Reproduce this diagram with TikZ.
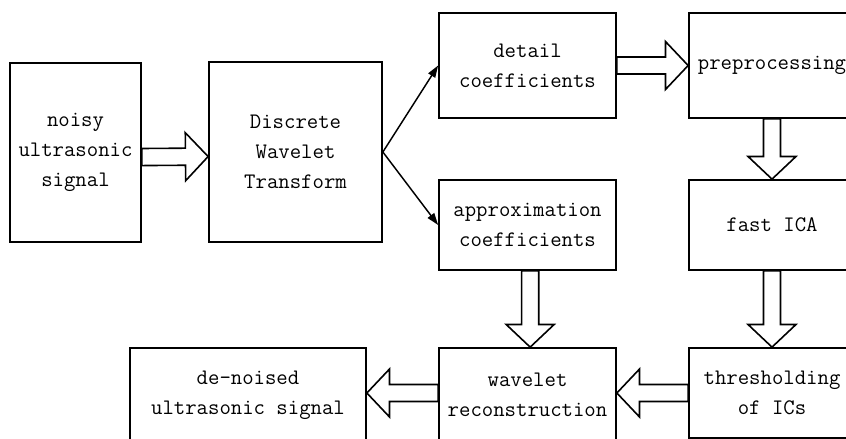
\documentclass[tikz,border=0pt]{standalone}
\usetikzlibrary{arrows.meta,calc}
\tikzset{box/.style={draw,line width=1.3pt,inner sep=0pt,align=center,
    font=\ttfamily\fontsize{16.6}{22.5}\selectfont},
  link/.style={-{Triangle[length=9pt,width=6pt]},line width=1.1pt},
  fat/.style={draw,line width=1.2pt,fill=white,line join=miter,
    to path={let \p1=(\tikztostart), \p2=(\tikztotarget),
      \n1={atan2(\y2-\y1,\x2-\x1)}, \n2={veclen(\x2-\x1,\y2-\y1)} in
      {[shift={(\p1)},rotate=\n1] (0pt,6.4pt) -- ({\n2-17pt},6.4pt) -- ({\n2-17pt},18pt)
      -- ({\n2},0pt) -- ({\n2-17pt},-18pt) -- ({\n2-17pt},-6.4pt) -- (0pt,-6.4pt) -- cycle}}}}

\begin{document}
\begin{tikzpicture}[x=0.75pt,y=-0.75pt]
\useasboundingbox (0,0) rectangle (846,439);
\node[box,minimum width=98.25pt,minimum height=134.25pt] (noisy) at (75.5,152.5) {noisy\\ultrasonic\\signal};
\node[box,minimum width=129.75pt,minimum height=135pt] (dwt) at (295.5,152) {Discrete\\Wavelet\\Transform};
\node[box,minimum width=132.75pt,minimum height=78.75pt] (detail) at (527.5,65.5) {detail\\coefficients};
\node[box,minimum width=132.75pt,minimum height=67.5pt] (approx) at (527.5,225) {approximation\\coefficients};
\node[box,minimum width=124.5pt,minimum height=78.75pt] (prep) at (772,65.5) {preprocessing};
\node[box,minimum width=124.5pt,minimum height=67.5pt] (ica) at (772,225) {fast ICA};
\node[box,minimum width=124.5pt,minimum height=67.5pt] (thr) at (772,393) {thresholding\\of ICs};
\node[box,minimum width=132.75pt,minimum height=70.5pt] (rec) at (527.5,395) {wavelet\\reconstruction};
\node[box,minimum width=177pt,minimum height=70.5pt] (out) at (248,395) {de-noised\\ultrasonic signal};
\draw[fat] ([yshift=-3.4pt]noisy.east) to ([yshift=-3.4pt]dwt.west);
\draw[link] (dwt.east) -- (detail.west); \draw[link] (dwt.east) -- (approx.west);
\draw[fat] (detail.east) to (prep.west);
\draw[fat] (prep.south) to (ica.north); \draw[fat] (ica.south) to (thr.north);
\draw[fat] ([xshift=2pt]approx.south) to ([xshift=2pt]rec.north);
\draw[fat] (thr.west) to (rec.east |- thr.west);
\draw[fat] (rec.west |- thr.west) to (out.east |- thr.west);
\end{tikzpicture}
\end{document}
